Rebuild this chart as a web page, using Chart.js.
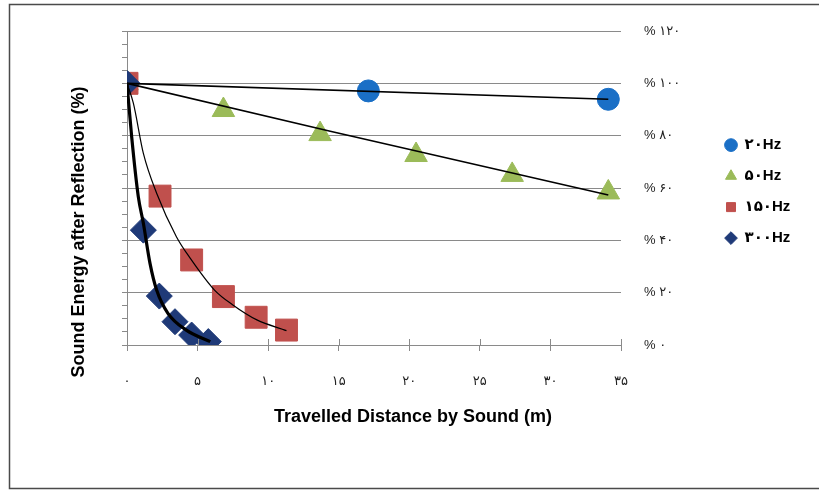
<!DOCTYPE html>
<html><head><meta charset="utf-8">
<script src="https://cdn.jsdelivr.net/npm/chart.js@4.4.1/dist/chart.umd.min.js"></script>
<style>html,body{margin:0;padding:0;background:#fff}canvas{display:block}</style>
</head><body>
<canvas id="c" width="819" height="490"></canvas>
<script>
// ---- data ----
const seriesNames = ['۲۰Hz', '۵۰Hz', '۱۵۰Hz', '۳۰۰Hz'];
const xTickLabels = {0:'۰', 5:'۵', 10:'۱۰', 15:'۱۵', 20:'۲۰', 25:'۲۵', 30:'۳۰', 35:'۳۵'};
const yTickLabels = {0:'% ۰', 20:'% ۲۰', 40:'% ۴۰', 60:'% ۶۰', 80:'% ۸۰', 100:'% ۱۰۰', 120:'% ۱۲۰'};
const xTitle = 'Travelled Distance by Sound (m)';
const yTitle = 'Sound Energy after Reflection (%)';

const hz20X = [0, 17.1, 34.1];
const hz20Y = [100, 97.1, 93.9];
const hz50X = [0, 6.83, 13.68, 20.48, 27.29, 34.1];
const hz50Y = [100, 89.8, 80.6, 72.6, 65.0, 58.3];
const hz150X = [0, 2.34, 4.58, 6.83, 9.15, 11.3];
const hz150Y = [100, 56.9, 32.5, 18.5, 10.6, 5.7];
const hz300X = [0, 1.16, 2.29, 3.4, 4.58, 5.76];
const hz300Y = [100, 43.9, 18.7, 8.9, 3.8, 1.3];

// trend lines
const trend20X = [0, 34.1];
const trend20Y = [100, 93.9];
const trend50X = [0, 14.4, 34.1];
const trend50Y = [100, 81.7, 57.3];
const trend150X = [0, 0.45, 1.16, 2.1, 3.5, 4.5, 6.2, 7.5, 9.2, 11.3];
const trend150Y = [100, 92.4, 73.2, 58, 41.4, 33, 21, 15.3, 9.6, 5.5];
const trend300X = [0, 0.33, 0.8, 1.16, 1.63, 2.1, 2.9, 4.2, 5.9];
const trend300Y = [100, 79.6, 56.7, 46.5, 31.2, 21, 12.1, 5.7, 1.3];

const pts = (xs, ys) => xs.map((x, i) => ({x, y: ys[i]}));
const GRID = '#8a8a8a';
const FONT = "'Liberation Sans', 'DejaVu Sans', Arial, sans-serif";

function markerSet(label, xs, ys, color, style, r, order) {
  return {label, data: pts(xs, ys), backgroundColor: color, borderColor: color,
    borderWidth: 1, pointStyle: style, pointRadius: r, pointHoverRadius: r, showLine: false, order};
}
function trendSet(xs, ys, w, smooth) {
  return {label: 'trend', data: pts(xs, ys), borderColor: '#000', backgroundColor: '#000',
    borderWidth: w, pointRadius: 0, showLine: true, fill: false, order: 0,
    cubicInterpolationMode: smooth ? 'monotone' : 'default', tension: 0};
}

const datasets = [
  markerSet(seriesNames[0], hz20X, hz20Y, '#1a6fc6', 'circle', 11, 4),
  markerSet(seriesNames[1], hz50X, hz50Y, '#9bbb59', 'triangle', 13, 3),
  markerSet(seriesNames[2], hz150X, hz150Y, '#c0504d', 'rect', 15.5, 2),
  markerSet(seriesNames[3], hz300X, hz300Y, '#1f3a78', 'rectRot', 13, 1),
  trendSet(trend20X, trend20Y, 1.6, false),
  trendSet(trend50X, trend50Y, 1.6, false),
  trendSet(trend150X, trend150Y, 1.2, true),
  trendSet(trend300X, trend300Y, 3.2, true)
];

const legendWidthPlugin = {
  id: 'legendWidth',
  beforeLayout(chart) {
    const lg = chart.legend;
    if (lg && !lg.__fixed) {
      const orig = lg.fit.bind(lg);
      lg.fit = function () { orig(); this.width = 110; };
      lg.__fixed = true;
    }
  }
};

const decorPlugin = {
  id: 'decor',
  afterDraw(chart) {
    const ctx = chart.ctx;
    const xs = chart.scales.x;
    ctx.save();
    // upper halves of the crossing x-axis tick marks
    ctx.strokeStyle = GRID; ctx.lineWidth = 1;
    xs.ticks.forEach(t => {
      const px = Math.round(xs.getPixelForValue(t.value)) + 0.5;
      ctx.beginPath(); ctx.moveTo(px, xs.top - 6); ctx.lineTo(px, xs.top); ctx.stroke();
    });
    // axis titles
    ctx.fillStyle = '#000';
    ctx.font = 'bold 18px ' + FONT;
    ctx.textAlign = 'center'; ctx.textBaseline = 'middle';
    ctx.fillText(xTitle, 413, 417);
    ctx.translate(79, 232); ctx.rotate(-Math.PI / 2);
    ctx.fillText(yTitle, 0, 0);
    ctx.restore();
    // outer frame
    ctx.save();
    ctx.strokeStyle = '#4a4a4a'; ctx.lineWidth = 1.5;
    ctx.beginPath();
    ctx.moveTo(830, 4.5); ctx.lineTo(9.5, 4.5); ctx.lineTo(9.5, 488.5); ctx.lineTo(830, 488.5);
    ctx.stroke();
    ctx.restore();
  }
};

new Chart(document.getElementById('c'), {
  type: 'scatter',
  data: {datasets},
  plugins: [legendWidthPlugin, decorPlugin],
  options: {
    responsive: false,
    animation: false,
    devicePixelRatio: 1,
    layout: {padding: {top: 31, left: 0, right: 0, bottom: 0}},
    plugins: {
      tooltip: {enabled: false},
      legend: {
        position: 'right', fullSize: false, align: 'center',
        title: {display: true, text: '', padding: 0, font: {size: 6}},
        labels: {
          usePointStyle: true, boxWidth: 12, boxHeight: 9, padding: 16,
          color: '#000', font: {family: FONT, size: 15, weight: 'bold'},
          filter: item => item.datasetIndex < 4,
          sort: (a, b) => a.datasetIndex - b.datasetIndex
        }
      }
    },
    scales: {
      x: {
        type: 'linear', position: 'bottom', min: 0, max: 35,
        afterFit: s => { s.height = 145; },
        ticks: {stepSize: 5, padding: 23, color: '#222', font: {family: FONT, size: 13},
          callback: v => xTickLabels[v] ?? ''},
        grid: {drawOnChartArea: false, drawTicks: true, tickLength: 6, color: GRID},
        border: {display: true, color: GRID, width: 1}
      },
      yMinor: {
        type: 'linear', axis: 'y', position: 'left', min: 0, max: 120,
        afterFit: s => { s.width = 127; },
        ticks: {display: false, stepSize: 5},
        grid: {drawOnChartArea: false, drawTicks: true, tickLength: 5, color: GRID},
        border: {display: true, color: GRID, width: 1}
      },
      y: {
        type: 'linear', position: 'right', min: 0, max: 120,
        afterFit: s => { s.width = 88; },
        ticks: {stepSize: 20, padding: 23, color: '#222', font: {family: FONT, size: 13},
          callback: v => yTickLabels[v] ?? ''},
        grid: {drawTicks: false, color: GRID, lineWidth: 1},
        border: {display: false}
      }
    }
  }
});
</script>
</body></html>
